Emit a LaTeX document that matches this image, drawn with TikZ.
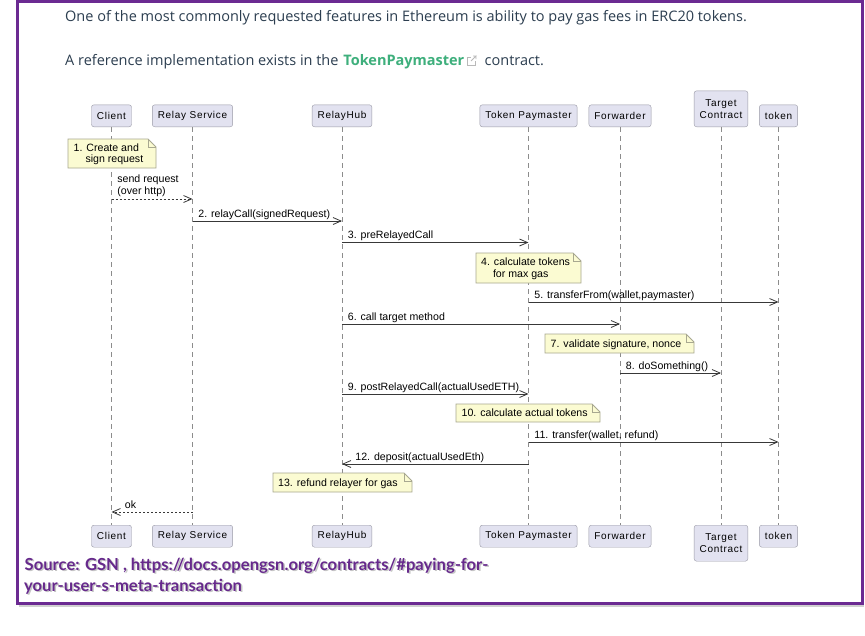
\documentclass[tikz,border=0pt]{standalone}
\usepackage{fontspec}
\setmainfont{Liberation Sans}
\newfontfamily\headfont{Open Sans}
\newfontfamily\srcfont{Lato}
\usetikzlibrary{arrows.meta,shadows}

\definecolor{framepurple}{HTML}{6B2A92}
\definecolor{srcpurple}{HTML}{66298C}
\definecolor{headtext}{HTML}{2C3E50}
\definecolor{linkgreen}{HTML}{3EAF7C}
\definecolor{partfill}{HTML}{E2E2F0}
\definecolor{partline}{HTML}{9A9AA6}
\definecolor{notefill}{HTML}{FBFBD2}
\definecolor{noteline}{HTML}{A8A890}
\definecolor{lifegray}{HTML}{8C8C8C}
\definecolor{msgline}{HTML}{383838}

\tikzset{
  head/.style={font=\headfont\fontsize{14.5}{17}\selectfont, text=headtext, inner sep=0pt, anchor=base west},
  part/.style={draw=partline, fill=partfill, rounded corners=2.5pt, inner xsep=5.5pt, inner ysep=0pt,
    minimum height=22pt, align=center, font=\fontsize{10}{12}\selectfont\addfontfeature{LetterSpace=7}},
  life/.style={draw=lifegray, line width=0.8pt, dash pattern=on 5pt off 4pt},
  call/.style={draw=msgline, line width=0.8pt, -{Straight Barb[length=8pt,width=7pt]}},
  back/.style={call, dash pattern=on 2pt off 2pt},
  lbl/.style={font=\fontsize{10.6}{12}\selectfont, inner sep=0pt, anchor=base west, yshift=4pt},
  lblm/.style={font=\fontsize{10.6}{12}\selectfont, inner sep=0pt, anchor=south west, yshift=1.8pt, align=left},
  notebg/.style={draw=noteline, fill=notefill, line width=0.8pt},
  notetxt/.style={font=\fontsize{10.6}{11.5}\selectfont, inner sep=0pt, anchor=base west, align=left},
  src/.style={font=\srcfont\bfseries\fontsize{16.6}{19}\selectfont, inner sep=0pt, anchor=base west}
}

% note box with folded corner: x1, y1, x2, y2
\newcommand{\notepath}[4]{%
  \filldraw[notebg] (#1,#2) -- ({#3-8},#2) -- (#3,{#2+8}) -- (#3,#4) -- (#1,#4) -- cycle;
  \draw[notebg, fill=none] ({#3-8},#2) -- ({#3-8},{#2+8}) -- (#3,{#2+8});}

\begin{document}
\begin{tikzpicture}[x=1pt, y=-1pt]
  \useasboundingbox (0,0) rectangle (865,635);
  \fill[white] (0,0) rectangle (865,635);
  \draw[draw=framepurple, line width=3pt, fill=white,
    drop shadow={shadow xshift=1pt, shadow yshift=-4pt, opacity=0.3, fill=black!60}]
    (17.5,1.5) rectangle (862.5,603);

  % header
  \node[head] (intro) at (65,21) {One of the most commonly requested features in Ethereum is ability to pay gas fees in ERC20 tokens.};
  \node[head] (ref) at (65,65.5) {A reference implementation exists in the};
  \node[head, text=linkgreen, font=\headfont\bfseries\fontsize{14.5}{17}\selectfont] (lnk) at ([xshift=4.5pt]ref.base east) {TokenPaymaster};
  \draw[gray!55, line width=0.8pt] ([xshift=2.5pt, yshift=0.5pt]lnk.base east) -- ++(0,-8) -- ++(4,0);
  \draw[gray!55, line width=0.8pt] ([xshift=2.5pt, yshift=0.5pt]lnk.base east) -- ++(8,0) -- ++(0,-4);
  \draw[gray!55, line width=0.8pt] ([xshift=6.5pt, yshift=4.5pt]lnk.base east) -- ++(5,-5) -- ++(-3,0) ++(3,0) -- ++(0,3);
  \node[head] (ctr) at ([xshift=20pt]lnk.base east) {contract.};

  % participants
  \node[part, anchor=south] (cliT) at (111.5,127) {Client};
  \node[part, anchor=south] (relT) at (192.5,127) {Relay Service};
  \node[part, anchor=south] (hubT) at (342,127) {RelayHub};
  \node[part, anchor=south] (payT) at (528.5,127) {Token Paymaster};
  \node[part, anchor=south] (fwdT) at (620,127) {Forwarder};
  \node[part, anchor=south, minimum height=36pt] (tgtT) at (721,127) {Target\\Contract};
  \node[part, anchor=south] (tokT) at (778.5,127) {token};

  \node[part, anchor=north] (cliB) at (111.5,525) {Client};
  \node[part, anchor=north] (relB) at (192.5,525) {Relay Service};
  \node[part, anchor=north] (hubB) at (342,525) {RelayHub};
  \node[part, anchor=north] (payB) at (528.5,525) {Token Paymaster};
  \node[part, anchor=north] (fwdB) at (620,525) {Forwarder};
  \node[part, anchor=north, minimum height=36pt] (tgtB) at (721,525) {Target\\Contract};
  \node[part, anchor=north] (tokB) at (778.5,525) {token};

  \foreach \p in {cli,rel,hub,pay,fwd,tgt,tok}
    \draw[life] (\p T) -- (\p B);

  % notes
  \notepath{68}{139}{156}{168}
  \node[notetxt] (n1) at (73.5,162.5) {1. Create and\\\hspace*{11.8pt}sign request};
  \notepath{476}{253}{581}{283}
  \node[notetxt] (n4) at (481,277) {4. calculate tokens\\\hspace*{11.8pt}for max gas};
  \notepath{545}{334}{694}{353}
  \node[notetxt] (n7) at (550.5,347) {7. validate signature, nonce};
  \notepath{456}{404}{600}{422}
  \node[notetxt] (n10) at (461.5,416.5) {10. calculate actual tokens};
  \notepath{273}{473}{412}{492}
  \node[notetxt] (n13) at (278,486.5) {13. refund relayer for gas};

  % messages
  \draw[back] (cliT |- 0,199) -- (relT |- 0,199) node[lblm, at start, xshift=5.5pt] {send request\\(over http)};
  \draw[call] (relT |- 0,221) -- (hubT |- 0,221) node[lbl, at start, xshift=5.5pt] {2. relayCall(signedRequest)};
  \draw[call] (hubT |- 0,242.5) -- (payT |- 0,242.5) node[lbl, at start, xshift=5.5pt] {3. preRelayedCall};
  \draw[call] (payT |- 0,302) -- (tokT |- 0,302) node[lbl, at start, xshift=5.5pt] {5. transferFrom(wallet,paymaster)};
  \draw[call] (hubT |- 0,324) -- (fwdT |- 0,324) node[lbl, at start, xshift=5.5pt] {6. call target method};
  \draw[call] (fwdT |- 0,373) -- (tgtT |- 0,373) node[lbl, at start, xshift=5.5pt] {8. doSomething()};
  \draw[call] (hubT |- 0,394) -- (payT |- 0,394) node[lbl, at start, xshift=5.5pt] {9. postRelayedCall(actualUsedETH)};
  \draw[call] (payT |- 0,442) -- (tokT |- 0,442) node[lbl, at start, xshift=5.5pt] {11. transfer(wallet, refund)};
  \draw[call] (payT |- 0,464) -- (hubT |- 0,464) node[lbl, at end, xshift=13pt] {12. deposit(actualUsedEth)};
  \draw[back] (relT |- 0,512) -- (cliT |- 0,512) node[lbl, at end, xshift=13pt] {ok};

  % source line
  \node[src, text=black!45, opacity=0.5] at (26,571.5) {Source: GSN , https://docs.opengsn.org/contracts/\#paying-for-};
  \node[src, text=black!45, opacity=0.5] at (25.5,592.5) {your-user-s-meta-transaction};
  \node[src, text=srcpurple] (src1) at (24.5,570) {Source: GSN , https://docs.opengsn.org/contracts/\#paying-for-};
  \node[src, text=srcpurple] (src2) at (24,591) {your-user-s-meta-transaction};
\end{tikzpicture}
\end{document}
